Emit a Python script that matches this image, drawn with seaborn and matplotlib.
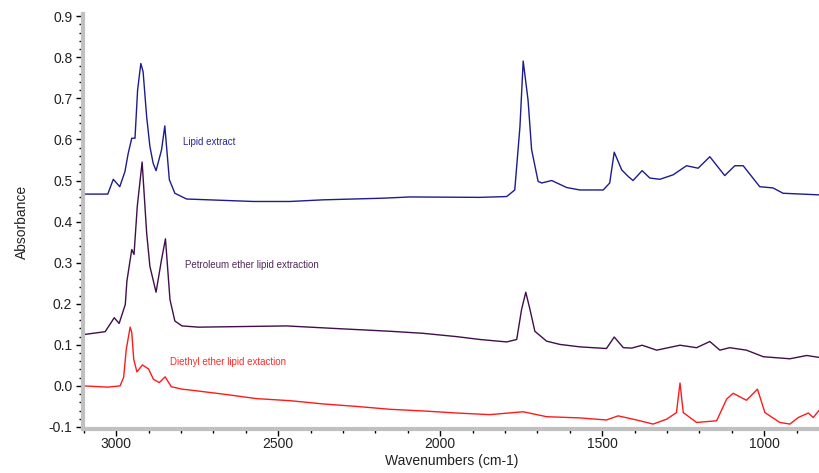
import matplotlib
matplotlib.use("Agg")
import matplotlib.pyplot as plt
import seaborn as sns
import pandas as pd
from matplotlib.ticker import MultipleLocator, FormatStrFormatter

# ---- data ----
wn_lipid = [3100, 3026, 3009, 2989, 2973, 2963, 2952, 2942, 2934, 2924, 2917, 2906, 2896,
            2886, 2877, 2860, 2850, 2836, 2819, 2783, 2577, 2464, 2361, 2176, 2094, 1878,
            1795, 1770, 1754, 1744, 1729, 1718, 1698, 1687, 1656, 1610, 1569, 1497, 1477,
            1463, 1440, 1420, 1405, 1377, 1353, 1322, 1281, 1240, 1204, 1168, 1122, 1091,
            1065, 1014, 973, 942, 828]
abs_lipid = [0.467, 0.467, 0.503, 0.485, 0.522, 0.566, 0.603, 0.603, 0.720, 0.785, 0.765, 0.655,
             0.583, 0.542, 0.524, 0.575, 0.633, 0.502, 0.469, 0.455, 0.449, 0.449, 0.453, 0.457,
             0.460, 0.459, 0.461, 0.477, 0.631, 0.791, 0.696, 0.575, 0.498, 0.494, 0.500, 0.483,
             0.477, 0.477, 0.494, 0.569, 0.526, 0.510, 0.500, 0.524, 0.506, 0.503, 0.514, 0.536,
             0.530, 0.558, 0.512, 0.536, 0.536, 0.485, 0.482, 0.469, 0.465]

wn_petrol = [3100, 3034, 3006, 2991, 2972, 2967, 2952, 2945, 2935, 2920, 2906, 2896, 2877,
             2860, 2848, 2834, 2819, 2797, 2746, 2474, 2330, 2155, 2053, 1950, 1878, 1795,
             1764, 1749, 1736, 1723, 1708, 1672, 1631, 1569, 1487, 1463, 1435, 1409, 1377,
             1332, 1260, 1209, 1168, 1137, 1107, 1055, 1003, 921, 869, 828]
abs_petrol = [0.125, 0.132, 0.166, 0.152, 0.198, 0.255, 0.332, 0.320, 0.437, 0.545, 0.372, 0.291,
              0.228, 0.308, 0.358, 0.210, 0.158, 0.146, 0.143, 0.146, 0.140, 0.133, 0.128, 0.120,
              0.113, 0.107, 0.113, 0.186, 0.228, 0.186, 0.133, 0.109, 0.101, 0.095, 0.091, 0.119,
              0.093, 0.092, 0.099, 0.087, 0.099, 0.093, 0.108, 0.087, 0.093, 0.087, 0.071, 0.066,
              0.074, 0.069]

wn_diethyl = [3100, 3026, 2988, 2977, 2969, 2957, 2952, 2946, 2936, 2919, 2900, 2885, 2867,
              2849, 2830, 2797, 2773, 2670, 2567, 2464, 2361, 2258, 2155, 2053, 1950, 1847,
              1744, 1672, 1569, 1487, 1451, 1394, 1343, 1301, 1271, 1260, 1250, 1209, 1147,
              1116, 1096, 1055, 1021, 998, 952, 921, 895, 864, 849, 828]
abs_diethyl = [0.000, -0.003, 0.000, 0.021, 0.089, 0.143, 0.130, 0.065, 0.034, 0.051, 0.041,
               0.016, 0.008, 0.022, -0.002, -0.008, -0.010, -0.020, -0.031, -0.036, -0.044,
               -0.050, -0.057, -0.061, -0.066, -0.070, -0.063, -0.075, -0.078, -0.083, -0.073,
               -0.083, -0.093, -0.081, -0.065, 0.007, -0.065, -0.089, -0.085, -0.032, -0.018,
               -0.035, -0.008, -0.065, -0.089, -0.093, -0.077, -0.066, -0.077, -0.057]

series_names = ["Lipid extract", "Petroleum ether lipid extraction", "Diethyl ether lipid extaction"]
series_colors = ["#1c1c8e", "#3f0f48", "#ff1a1a"]
label_colors = ["#28289a", "#52285a", "#ff2a2a"]
label_pos = [(2795, 0.595), (2788, 0.295), (2835, 0.057)]

x_ticks = [3000, 2500, 2000, 1500, 1000]
y_ticks = [-0.1, 0.0, 0.1, 0.2, 0.3, 0.4, 0.5, 0.6, 0.7, 0.8, 0.9]

# ---- plot ----
sns.set_style("ticks")
plt.rcParams["font.family"] = ["Liberation Sans", "DejaVu Sans"]
plt.rcParams["axes.unicode_minus"] = False

fig = plt.figure(figsize=(8.2, 4.73), dpi=100)
ax = fig.add_axes([0.1018, 0.093, 0.8982, 0.877])

data = [(wn_lipid, abs_lipid), (wn_petrol, abs_petrol), (wn_diethyl, abs_diethyl)]
for (wn, ab), name, col in zip(data, series_names, series_colors):
    df = pd.DataFrame({"wn": wn, "abs": ab})
    sns.lineplot(data=df, x="wn", y="abs", color=col, linewidth=1.0, ax=ax,
                 estimator=None, sort=True)

for name, col, (tx, ty) in zip(series_names, label_colors, label_pos):
    ax.text(tx, ty, name, color=col, fontsize=7, ha="left", va="center")

ax.set_xlim(3101, 828)
ax.set_ylim(-0.105, 0.905)
ax.set_xticks(x_ticks)
ax.set_yticks(y_ticks)
ax.xaxis.set_minor_locator(MultipleLocator(100))
ax.yaxis.set_minor_locator(MultipleLocator(0.02))
ax.yaxis.set_major_formatter(FormatStrFormatter("%.1f"))

for s in ["top", "right"]:
    ax.spines[s].set_visible(False)
for s in ["left", "bottom"]:
    ax.spines[s].set_color("#c0c0c0")
    ax.spines[s].set_linewidth(3)

ax.tick_params(which="major", direction="out", length=5, width=1, color="black",
               labelsize=10, labelcolor="#222222", pad=3)
ax.tick_params(axis="x", which="major", pad=1)
ax.tick_params(which="minor", direction="out", length=3, width=1, color="black")

ax.set_xlabel("Wavenumbers (cm-1)", fontsize=10, color="#222222", labelpad=2)
ax.set_ylabel("Absorbance", fontsize=10, color="#222222", labelpad=14)

fig.savefig("out.png", dpi=100)
